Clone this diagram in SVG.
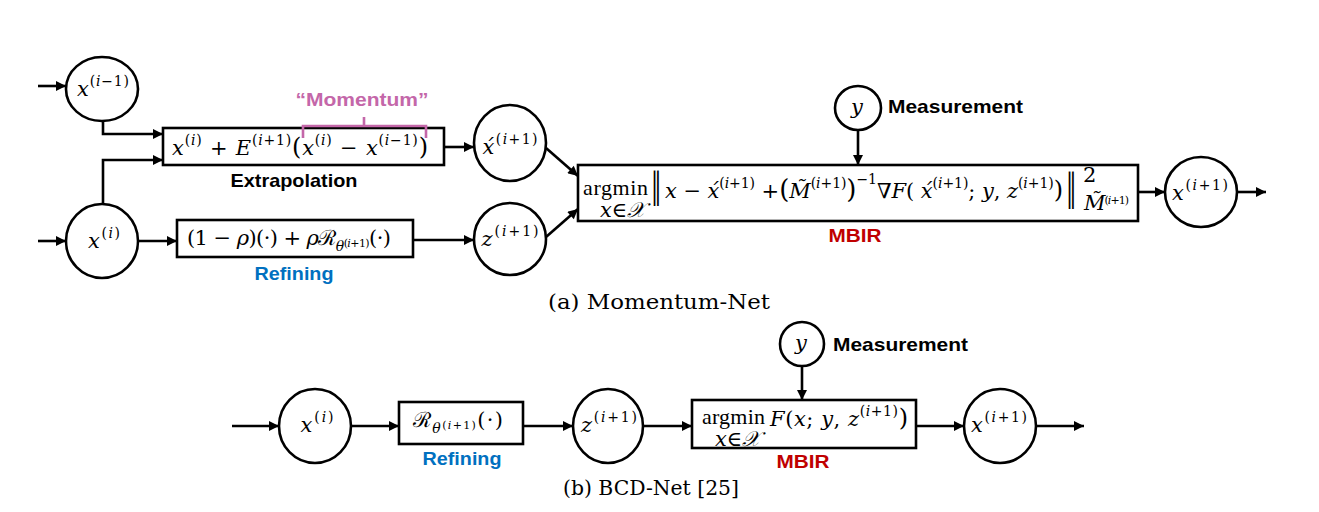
<svg xmlns="http://www.w3.org/2000/svg" width="1319" height="512" viewBox="0 0 1319 512">
<defs>
<style>
.bg{fill:#ffffff}
.nd{fill:#ffffff;stroke:#000000;stroke-width:2.6}
.ln{fill:none;stroke:#000000;stroke-width:2.6}
.m{font-family:"DejaVu Serif","Liberation Serif",serif;font-size:21px;fill:#000000}
.r{font-family:"Liberation Serif","Times New Roman",serif;font-size:22px;fill:#000000}
.i{font-style:italic}
.s{font-size:14px}
.lb{font-family:"Liberation Sans",Arial,sans-serif;font-weight:bold;font-size:19px}
.cap{font-family:"DejaVu Serif","Liberation Serif",serif;font-size:20px;fill:#000000}
.pink{fill:#c467a9}
.blue{fill:#0070c0}
.red{fill:#c00000}
</style>
<marker id="ah" viewBox="0 0 10 10" refX="10" refY="5" markerWidth="11" markerHeight="10" markerUnits="userSpaceOnUse" orient="auto">
<path d="M0,0 L10,5 L0,10 z" fill="#000000"/>
</marker>
</defs>
<rect class="bg" x="0" y="0" width="1319" height="512"/>

<g id="connectors" class="ln" marker-end="url(#ah)">
<path d="M38,86 H66"/>
<path d="M103,121 V134 H163"/>
<path d="M103,204 V160 H163"/>
<path d="M38,241 H66"/>
<path d="M139,241 H177"/>
<path d="M444,147 H474"/>
<path d="M413,240 H474"/>
<path d="M546,148 L578,176"/>
<path d="M546,237 L578,209"/>
<path d="M858,130 V165"/>
<path d="M1138,192 H1165"/>
<path d="M1237,192 H1266"/>
<path d="M232,426 H279"/>
<path d="M351,426 H399"/>
<path d="M523,426 H573"/>
<path d="M643,426 H692"/>
<path d="M802,366 V400"/>
<path d="M916,426 H964"/>
<path d="M1036,426 H1084"/>
</g>

<g id="node-x-im1">
<ellipse class="nd" cx="102" cy="89" rx="36" ry="32"/>
<text class="m" x="103" y="96" text-anchor="middle" textLength="52"><tspan class="i">x</tspan><tspan class="s" dy="-10">(<tspan class="i">i</tspan>−1)</tspan></text>
</g>

<g id="node-x-i">
<ellipse class="nd" cx="102" cy="241" rx="36" ry="37"/>
<text class="m" x="104" y="248" text-anchor="middle" textLength="32"><tspan class="i">x</tspan><tspan class="s" dy="-10">(<tspan class="i">i</tspan>)</tspan></text>
</g>

<g id="node-extrapolation">
<rect class="nd" x="163" y="128" width="281" height="37"/>
<text class="m" x="300" y="155" text-anchor="middle" textLength="256"><tspan class="i">x</tspan><tspan class="s" dy="-10">(<tspan class="i">i</tspan>)</tspan><tspan dy="10"> + </tspan><tspan class="i">E</tspan><tspan class="s" dy="-10">(<tspan class="i">i</tspan>+1)</tspan><tspan dy="10" font-size="24">(</tspan><tspan class="i">x</tspan><tspan class="s" dy="-10">(<tspan class="i">i</tspan>)</tspan><tspan dy="10"> − </tspan><tspan class="i">x</tspan><tspan class="s" dy="-10">(<tspan class="i">i</tspan>−1)</tspan><tspan dy="10" font-size="24">)</tspan></text>
<text class="lb" x="294" y="187" text-anchor="middle" textLength="127" lengthAdjust="spacingAndGlyphs">Extrapolation</text>
</g>

<g id="momentum">
<path d="M303,138 V126 H426 V138 M364,126 V117" fill="none" stroke="#c467a9" stroke-width="2.6"/>
<text class="lb pink" x="362" y="106" text-anchor="middle" textLength="133" lengthAdjust="spacingAndGlyphs">“Momentum”</text>
</g>

<g id="node-refining">
<rect class="nd" x="177" y="220" width="236" height="37"/>
<text class="m" x="289" y="245" text-anchor="middle" textLength="204">(1 − <tspan class="i">ρ</tspan>)(·) + <tspan class="i">ρ</tspan>ℛ<tspan class="s i" dy="6">θ</tspan><tspan font-size="11" dy="-4">(<tspan class="i">i</tspan>+1)</tspan><tspan dy="-2">(·)</tspan></text>
<text class="lb blue" x="294" y="280" text-anchor="middle" textLength="79" lengthAdjust="spacingAndGlyphs">Refining</text>
</g>

<g id="node-xhat">
<ellipse class="nd" cx="510" cy="143" rx="36" ry="38"/>
<text class="m" x="510" y="154" text-anchor="middle" textLength="55"><tspan class="i">x́</tspan><tspan class="s" dy="-10">(<tspan class="i">i</tspan>+1)</tspan></text>
</g>

<g id="node-z">
<ellipse class="nd" cx="510" cy="239" rx="36" ry="36"/>
<text class="m" x="510" y="246" text-anchor="middle" textLength="57"><tspan class="i">z</tspan><tspan class="s" dy="-10">(<tspan class="i">i</tspan>+1)</tspan></text>
</g>

<g id="node-y-a">
<ellipse class="nd" cx="858" cy="108" rx="23" ry="22"/>
<text class="m i" x="857" y="114" text-anchor="middle">y</text>
<text class="lb" x="888" y="113" textLength="135" lengthAdjust="spacingAndGlyphs">Measurement</text>
</g>

<g id="node-mbir-a">
<rect class="nd" x="578" y="165" width="560" height="56"/>
<text class="r" x="583" y="195" textLength="65">argmin</text>
<text class="m i" x="600" y="217" font-size="12">x∈𝒳</text>
<text class="m" transform="translate(651,198) scale(1,1.7)" x="0" y="0" font-size="22">‖</text>
<text class="m" x="665" y="198" textLength="398"><tspan class="i">x</tspan> − <tspan class="i">x́</tspan><tspan class="s" dy="-10">(<tspan class="i">i</tspan>+1)</tspan><tspan dy="10"> +</tspan><tspan font-size="26">(</tspan><tspan class="i">M̃</tspan><tspan class="s" dy="-10">(<tspan class="i">i</tspan>+1)</tspan><tspan dy="10" font-size="26">)</tspan><tspan class="s" dy="-14">−1</tspan><tspan dy="14" class="i">∇F</tspan>( <tspan class="i">x́</tspan><tspan class="s" dy="-10">(<tspan class="i">i</tspan>+1)</tspan><tspan dy="10">; </tspan><tspan class="i">y</tspan>, <tspan class="i">z</tspan><tspan class="s" dy="-10">(<tspan class="i">i</tspan>+1)</tspan><tspan dy="10" font-size="24">)</tspan></text>
<text class="m" transform="translate(1066,200) scale(1,1.8)" x="0" y="0" font-size="22">‖</text>
<text class="m" x="1083" y="182" font-size="14">2</text>
<text class="m" x="1083" y="210" font-size="13" textLength="45"><tspan class="i">M̃</tspan><tspan font-size="11" dy="-6">(<tspan class="i">i</tspan>+1)</tspan></text>
<text class="lb red" x="855" y="242" text-anchor="middle" textLength="53" lengthAdjust="spacingAndGlyphs">MBIR</text>
</g>

<g id="node-x-ip1-a">
<ellipse class="nd" cx="1201" cy="192" rx="36" ry="35"/>
<text class="m" x="1200" y="200" text-anchor="middle" textLength="56"><tspan class="i">x</tspan><tspan class="s" dy="-10">(<tspan class="i">i</tspan>+1)</tspan></text>
</g>

<text class="cap" x="659" y="309" text-anchor="middle" textLength="222" lengthAdjust="spacingAndGlyphs">(a) Momentum-Net</text>

<g id="node-x-i-b">
<ellipse class="nd" cx="315" cy="426" rx="36" ry="37"/>
<text class="m" x="317" y="432" text-anchor="middle" textLength="33"><tspan class="i">x</tspan><tspan class="s" dy="-10">(<tspan class="i">i</tspan>)</tspan></text>
</g>

<g id="node-refining-b">
<rect class="nd" x="399" y="402" width="124" height="42"/>
<text class="m" x="413" y="427" textLength="90">ℛ<tspan class="s i" dy="6">θ</tspan><tspan font-size="11" dy="-4">(<tspan class="i">i</tspan>+1)</tspan><tspan dy="-2">(·)</tspan></text>
<text class="lb blue" x="462" y="465" text-anchor="middle" textLength="79" lengthAdjust="spacingAndGlyphs">Refining</text>
</g>

<g id="node-z-b">
<ellipse class="nd" cx="608" cy="426" rx="35" ry="37"/>
<text class="m" x="609" y="432" text-anchor="middle" textLength="56"><tspan class="i">z</tspan><tspan class="s" dy="-10">(<tspan class="i">i</tspan>+1)</tspan></text>
</g>

<g id="node-y-b">
<ellipse class="nd" cx="802" cy="344" rx="22" ry="22"/>
<text class="m i" x="801" y="350" text-anchor="middle">y</text>
<text class="lb" x="833" y="351" textLength="135" lengthAdjust="spacingAndGlyphs">Measurement</text>
</g>

<g id="node-mbir-b">
<rect class="nd" x="692" y="400" width="224" height="48"/>
<text class="r" x="702" y="424" textLength="63">argmin</text>
<text class="m i" x="715" y="446" font-size="12">x∈𝒳</text>
<text class="m" x="770" y="426" textLength="138"><tspan class="i">F</tspan>(<tspan class="i">x</tspan>; <tspan class="i">y</tspan>, <tspan class="i">z</tspan><tspan class="s" dy="-10">(<tspan class="i">i</tspan>+1)</tspan><tspan dy="10" font-size="24">)</tspan></text>
<text class="lb red" x="803" y="468" text-anchor="middle" textLength="53" lengthAdjust="spacingAndGlyphs">MBIR</text>
</g>

<g id="node-x-ip1-b">
<ellipse class="nd" cx="1000" cy="426" rx="36" ry="37"/>
<text class="m" x="999" y="432" text-anchor="middle" textLength="56"><tspan class="i">x</tspan><tspan class="s" dy="-10">(<tspan class="i">i</tspan>+1)</tspan></text>
</g>

<text class="cap" x="651" y="495" text-anchor="middle" textLength="176" lengthAdjust="spacingAndGlyphs">(b) BCD-Net [25]</text>
</svg>
